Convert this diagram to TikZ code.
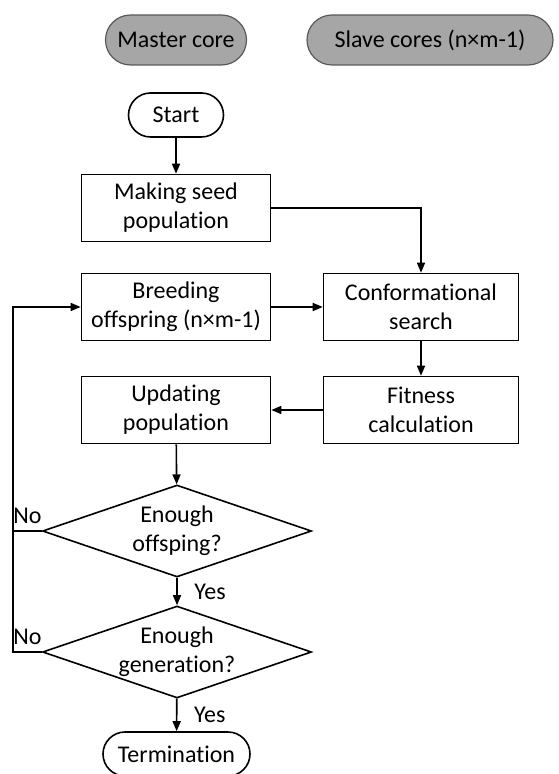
\documentclass[tikz,border=0pt]{standalone}
\usepackage{fontspec}
\setmainfont[Ligatures={NoCommon,NoContextual,NoRequired}]{Carlito}
\usetikzlibrary{shapes.geometric,shapes.misc,arrows.meta}

\begin{document}
\begin{tikzpicture}[x=0.5pt, y=-0.5pt,
    font=\fontsize{12}{14.5}\selectfont,
    core/.style={rounded rectangle, draw=black!65, fill=black!35, line width=0.6pt, minimum height=25pt, inner sep=2pt},
    terminal/.style={rounded rectangle, draw, line width=0.8pt, minimum height=22pt, inner sep=2pt},
    stepbox/.style={rectangle, draw, line width=0.8pt, minimum width=94.5pt, minimum height=33.5pt, align=center, inner sep=2pt},
    decision/.style={diamond, draw, line width=0.8pt, aspect=2.9, minimum width=134.5pt, minimum height=46pt, inner sep=-2pt, align=center},
    arrow/.style={line width=0.8pt, -{Triangle[length=5pt,width=4pt]}},
    line/.style={line width=0.8pt}]
    \def \bw {97.5pt} % width of right column boxes

    \useasboundingbox (0,0) rectangle (558,774);

    % Legend
    \node[core, minimum width=74.5pt] (master) at (176,40) {Master core};
    \node[core, minimum width=127pt] (slave) at (430,40) {Slave cores (n×m-1)};

    % Flow
    \node[terminal, minimum width=51.5pt] (start) at (176,115) {Start};
    \node[stepbox] (seed) at (176,208) {Making seed\\population};
    \node[stepbox] (breed) at (176,307) {Breeding\\offspring (n×m-1)};
    \node[stepbox, minimum width=\bw] (conf) at (421,307) {Conformational\\search};
    \node[stepbox, minimum width=\bw] (fit) at (421,410) {Fitness\\calculation};
    \node[stepbox] (upd) at (176,410) {Updating\\population};
    \node[decision] (enoff) at (177,531) {Enough\\offsping?};
    \node[decision] (engen) at (177,652) {Enough\\generation?};
    \node[terminal, minimum width=77.5pt] (term) at (176.5,754) {Termination};
    \coordinate (rail) at (13,652);

    % Connectors
    \draw[arrow] (start) -- (seed);
    \draw[arrow] (seed.east) -| (conf.north);
    \draw[arrow] (breed) -- (conf);
    \draw[arrow] (conf) -- (fit);
    \draw[arrow] (fit) -- (upd);
    \draw[arrow] (upd) -- (enoff);
    \draw[arrow] (enoff) -- node[right=5pt] {Yes} (engen);
    \draw[arrow] (engen) -- node[right=5pt] {Yes} (term);
    \draw[arrow] (engen.west) -- node[above] {No} (rail) |- (breed.west);
    \draw[line] (enoff.west) -- node[above] {No} (enoff.west -| rail);
\end{tikzpicture}
\end{document}
